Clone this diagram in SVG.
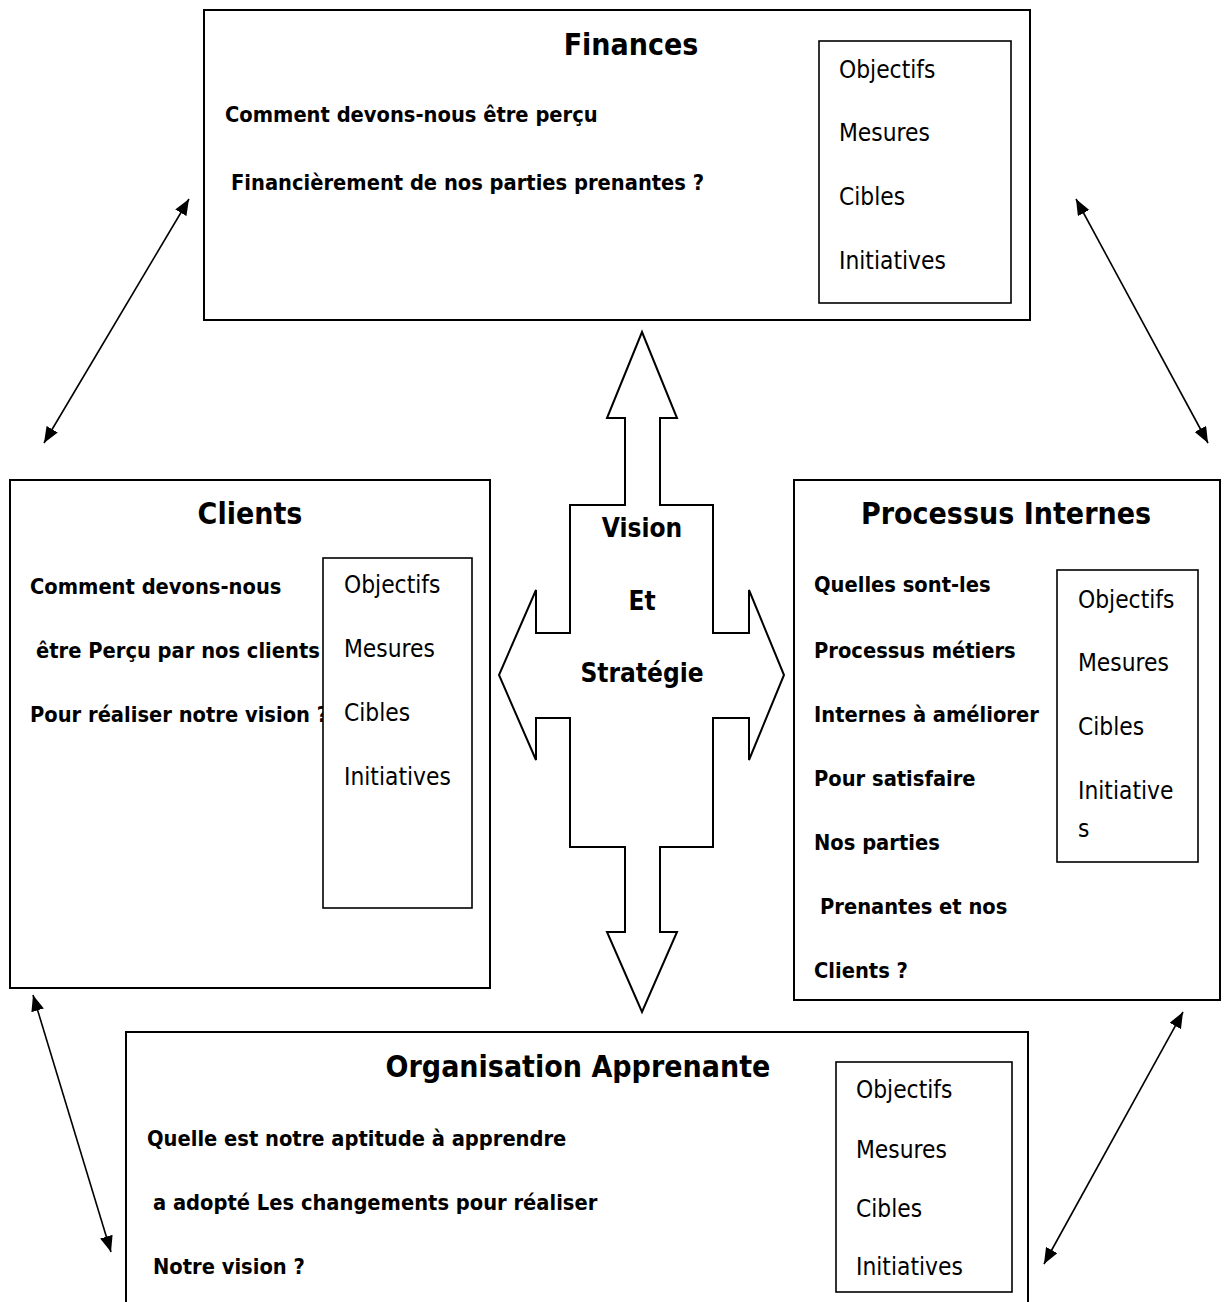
<svg xmlns="http://www.w3.org/2000/svg" width="1226" height="1302" viewBox="0 0 1226 1302">
<defs>
<marker id="ah" viewBox="0 0 16 13" refX="16" refY="6.5" markerWidth="16" markerHeight="13" markerUnits="userSpaceOnUse" orient="auto-start-reverse">
<path d="M0,0 L16,6.5 L0,13 Z" fill="#000"/>
</marker>
<style>
.box{fill:#fff;stroke:#000;stroke-width:2}
.ibox{fill:#fff;stroke:#000;stroke-width:1.6}
.t{font-family:"DejaVu Sans Condensed","DejaVu Sans",sans-serif;font-weight:bold;font-size:30px;text-anchor:middle;fill:#000}
.b{font-family:"DejaVu Sans Condensed","DejaVu Sans",sans-serif;font-weight:bold;font-size:21.7px;fill:#000}
.r{font-family:"DejaVu Sans Condensed","DejaVu Sans",sans-serif;font-size:24.3px;fill:#000}
.c{font-family:"DejaVu Sans Condensed","DejaVu Sans",sans-serif;font-weight:bold;font-size:26px;text-anchor:middle;fill:#000}
.con{stroke:#000;stroke-width:1.6;fill:none;marker-start:url(#ah);marker-end:url(#ah)}
</style>
</defs>
<rect width="1226" height="1302" fill="#fff"/>

<g id="finances">
<rect class="box" x="204" y="10" width="826" height="310"/>
<text class="t" x="631" y="55">Finances</text>
<text class="b" x="225" y="122">Comment devons-nous être perçu</text>
<text class="b" x="231" y="190">Financièrement de nos parties prenantes ?</text>
<rect class="ibox" x="819" y="41" width="192" height="262"/>
<text class="r" x="839" y="78">Objectifs</text>
<text class="r" x="839" y="141">Mesures</text>
<text class="r" x="839" y="205">Cibles</text>
<text class="r" x="839" y="269">Initiatives</text>
</g>

<g id="clients">
<rect class="box" x="10" y="480" width="480" height="508"/>
<text class="t" x="250" y="524">Clients</text>
<text class="b" x="30" y="594">Comment devons-nous</text>
<text class="b" x="36" y="658">être Perçu par nos clients</text>
<text class="b" x="30" y="722">Pour réaliser notre vision ?</text>
<rect class="ibox" x="323" y="558" width="149" height="350"/>
<text class="r" x="344" y="593">Objectifs</text>
<text class="r" x="344" y="657">Mesures</text>
<text class="r" x="344" y="721">Cibles</text>
<text class="r" x="344" y="785">Initiatives</text>
</g>

<g id="processus">
<rect class="box" x="794" y="480" width="426" height="520"/>
<text class="t" x="1006" y="524">Processus Internes</text>
<text class="b" x="814" y="592">Quelles sont-les</text>
<text class="b" x="814" y="658">Processus métiers</text>
<text class="b" x="814" y="722">Internes à améliorer</text>
<text class="b" x="814" y="786">Pour satisfaire</text>
<text class="b" x="814" y="850">Nos parties</text>
<text class="b" x="820" y="914">Prenantes et nos</text>
<text class="b" x="814" y="978">Clients ?</text>
<rect class="ibox" x="1057" y="570" width="141" height="292"/>
<text class="r" x="1078" y="608">Objectifs</text>
<text class="r" x="1078" y="671">Mesures</text>
<text class="r" x="1078" y="735">Cibles</text>
<text class="r" x="1078" y="799">Initiative</text>
<text class="r" x="1078" y="837">s</text>
</g>

<g id="organisation">
<rect class="box" x="126" y="1032" width="902" height="290"/>
<text class="t" x="578" y="1077">Organisation Apprenante</text>
<text class="b" x="147" y="1146">Quelle est notre aptitude à apprendre</text>
<text class="b" x="153" y="1210">a adopté Les changements pour réaliser</text>
<text class="b" x="153" y="1274">Notre vision ?</text>
<rect class="ibox" x="836" y="1062" width="176" height="230"/>
<text class="r" x="856" y="1098">Objectifs</text>
<text class="r" x="856" y="1158">Mesures</text>
<text class="r" x="856" y="1217">Cibles</text>
<text class="r" x="856" y="1275">Initiatives</text>
</g>

<g id="vision">
<path class="box" d="M642,332 L677,418 L660,418 L660,505 L713,505 L713,633 L749,633 L749,590 L784,675 L749,760 L749,718 L713,718 L713,847 L660,847 L660,932 L677,932 L642,1012 L607,932 L625,932 L625,847 L570,847 L570,718 L536,718 L536,760 L499,675 L536,590 L536,633 L570,633 L570,505 L625,505 L625,418 L607,418 Z"/>
<text class="c" x="642" y="537">Vision</text>
<text class="c" x="642" y="610">Et</text>
<text class="c" x="642" y="682">Stratégie</text>
</g>

<g id="connectors">
<line class="con" x1="189" y1="199" x2="44" y2="443"/>
<line class="con" x1="1076" y1="199" x2="1208" y2="443"/>
<line class="con" x1="33" y1="995" x2="111" y2="1252"/>
<line class="con" x1="1183" y1="1012" x2="1044" y2="1264"/>
</g>
</svg>
